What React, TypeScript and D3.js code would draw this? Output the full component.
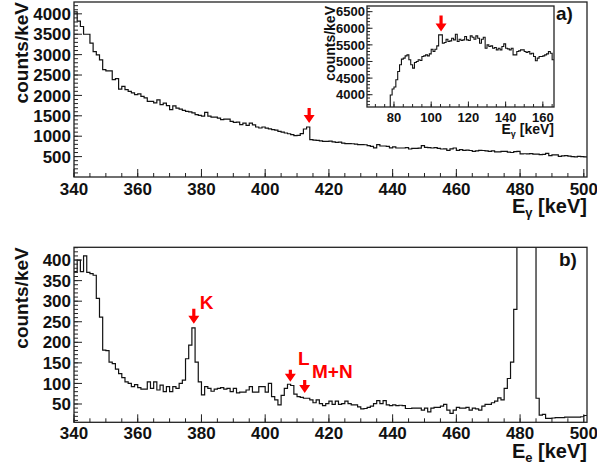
import React from 'react';
import * as d3 from 'd3';

// ---------- data (1 keV bins) ----------
const gammaStart = 340;
const gammaCounts = [
  4050, 3820, 3690, 3500, 3500, 3280, 3075, 2995, 2870, 2630,
  2600, 2600, 2385, 2410, 2155, 2220, 2140, 2100, 2060, 2020,
  2040, 1975, 1940, 1855, 1855, 1815, 1890, 1775, 1810, 1750,
  1650, 1745, 1690, 1665, 1635, 1610, 1595, 1570, 1530, 1510,
  1490, 1585, 1490, 1470, 1470, 1445, 1405, 1420, 1420, 1363,
  1340, 1345, 1282, 1323, 1265, 1323, 1280, 1226, 1201, 1226,
  1200, 1180, 1160, 1150, 1119, 1100, 1079, 1060, 1038, 1013,
  1020, 1062, 1177, 1226, 915, 905, 898, 885, 874, 874,
  880, 860, 850, 855, 830, 817, 820, 815, 805, 793,
  795, 790, 770, 752, 712, 793, 760, 760, 750, 712,
  740, 711, 711, 711, 720, 687, 700, 700, 710, 768,
  727, 720, 711, 720, 700, 687, 690, 654, 690, 711,
  654, 670, 654, 660, 650, 630, 640, 654, 650, 640,
  630, 640, 614, 614, 630, 630, 610, 600, 620, 630,
  565, 570, 565, 575, 560, 560, 548, 555, 581, 524,
  540, 540, 507, 520, 524, 510, 500, 491, 507, 500, 491,
];

const electronStart = 340;
const electronCounts = [
  372, 400, 372, 410, 370, 367, 363, 307, 261, 181,
  180, 152, 148, 135, 124, 114, 104, 100, 92, 97,
  90, 86, 86, 104, 88, 104, 84, 96, 80, 92,
  80, 92, 88, 100, 108, 160, 193, 235, 152, 104,
  72, 92, 88, 81, 86, 88, 90, 86, 88, 80,
  88, 77, 79, 79, 84, 92, 79, 79, 92, 92,
  79, 100, 68, 60, 48, 71, 88, 98, 95, 74,
  68, 66, 64, 64, 60, 53, 60, 51, 46, 51,
  57, 49, 57, 49, 51, 57, 51, 48, 48, 43,
  38, 39, 42, 45, 51, 58, 51, 58, 48, 46,
  48, 46, 47, 46, 39, 39, 40, 40, 40, 35,
  40, 31, 40, 42, 42, 45, 49, 35, 27, 35,
  42, 40, 40, 42, 35, 40, 38, 35, 45, 49,
  49, 53, 57, 65, 60, 88, 112, 152, 280, 1200,
  3000, 4000, 3500, 2000, 800, 64, 23, 25, 15, 15,
  16, 17, 17, 17, 18, 18, 18, 18, 18, 19, 22,
];

const insetStart = 78;
const insetCounts = [
  3990, 4170, 4230, 4450, 4700, 4900, 5070, 5100, 5170, 5200,
  5050, 4900, 4800, 4970, 5000, 5050, 5030, 5150, 5170, 5200,
  5170, 5230, 5370, 5300, 5370, 5470, 5800, 5800, 5550, 5570,
  5670, 5600, 5620, 5700, 5650, 5820, 5600, 5670, 5630, 5650,
  5750, 5650, 5630, 5770, 5730, 5670, 5770, 5700, 5550, 5670,
  5730, 5400, 5500, 5450, 5470, 5400, 5420, 5350, 5400, 5350,
  5450, 5530, 5400, 5380, 5350, 5400, 5200, 5200, 5300, 5320,
  5350, 5350, 5300, 5270, 5300, 5230, 5250, 5150, 5020, 5100,
  5150, 5150, 5170, 5200, 5230, 5300, 5250, 5050,
];

// ---------- axes ----------
const mainXDomain = [340, 501];
const mainXTicks = [340, 360, 380, 400, 420, 440, 460, 480, 500];
const gammaYDomain = [0, 4290];
const gammaYTicks = [500, 1000, 1500, 2000, 2500, 3000, 3500, 4000];
const electronYDomain = [5.5, 431];
const electronYTicks = [50, 100, 150, 200, 250, 300, 350, 400];
const insetXDomain = [65.5, 166];
const insetXTicks = [80, 100, 120, 140, 160];
const insetYDomain = [3630, 6670];
const insetYTicks = [4000, 4500, 5000, 5500, 6000, 6500];

// ---------- annotations ----------
const gammaArrows = [{ e: 413.8, v: 1324, len: 15 }];
const insetArrows = [{ e: 105.3, v: 5900, len: 16 }];
const electronArrows = [
  { e: 377.6, v: 245, len: 15 },
  { e: 407.9, v: 104, len: 12 },
  { e: 412.4, v: 77, len: 13 },
];
const electronLabels = [
  { e: 379.5, v: 280, text: 'K' },
  { e: 410.3, v: 144, text: 'L' },
  { e: 414.7, v: 113, text: 'M+N' },
];

const FONT = "'Liberation Sans', Arial, Helvetica, sans-serif";
const RED = '#ff0000';

type Scale = d3.ScaleLinear<number, number>;

function histPath(start: number, values: number[], x: Scale, y: Scale, fromBottom: boolean) {
  const pts: [number, number][] = [];
  if (fromBottom) pts.push([x(start), y.range()[0]]);
  values.forEach((v, i) => {
    pts.push([x(start + i), y(v)]);
    pts.push([x(start + i + 1), y(v)]);
  });
  return d3.line()(pts) || '';
}

function arrowPath(cx: number, tipY: number, len: number) {
  const headH = 8;
  const headW = 5.5;
  const shaftW = 1.6;
  const top = tipY - len;
  const hb = tipY - headH;
  return `M${cx - shaftW},${top}L${cx + shaftW},${top}L${cx + shaftW},${hb}L${cx + headW},${hb}L${cx},${tipY}L${cx - headW},${hb}L${cx - shaftW},${hb}Z`;
}

interface PanelAxesProps {
  x: Scale; y: Scale;
  xTicks: number[]; yTicks: number[];
  xMinor: number[]; yMinor: number[];
  majorLen: number; minorLen: number;
  fontSize: number; xLabelDy: number; yLabelDx: number;
}

function PanelAxes(p: PanelAxesProps) {
  const [x0, x1] = p.x.range();
  const [y0, y1] = p.y.range();
  return (
    <g>
      <rect x={x0} y={y1} width={x1 - x0} height={y0 - y1} fill="none" stroke="#222" strokeWidth={1.3} />
      {p.xMinor.map((t) => (
        <line key={'xm' + t} x1={p.x(t)} x2={p.x(t)} y1={y0} y2={y0 - p.minorLen} stroke="#222" strokeWidth={1} />
      ))}
      {p.xTicks.map((t) => (
        <line key={'xM' + t} x1={p.x(t)} x2={p.x(t)} y1={y0} y2={y0 - p.majorLen} stroke="#222" strokeWidth={1} />
      ))}
      {p.yMinor.map((t) => (
        <line key={'ym' + t} x1={x0} x2={x0 + p.minorLen} y1={p.y(t)} y2={p.y(t)} stroke="#222" strokeWidth={1} />
      ))}
      {p.yTicks.map((t) => (
        <line key={'yM' + t} x1={x0} x2={x0 + p.majorLen} y1={p.y(t)} y2={p.y(t)} stroke="#222" strokeWidth={1} />
      ))}
      {p.xTicks.map((t) => (
        <text key={'xl' + t} x={p.x(t)} y={y0 + p.xLabelDy} textAnchor="middle" fontFamily={FONT} fontWeight="bold" fontSize={p.fontSize} fill="#111">
          {t}
        </text>
      ))}
      {p.yTicks.map((t) => (
        <text key={'yl' + t} x={x0 - p.yLabelDx} y={p.y(t) + p.fontSize * 0.36} textAnchor="end" fontFamily={FONT} fontWeight="bold" fontSize={p.fontSize} fill="#111">
          {t}
        </text>
      ))}
    </g>
  );
}

export default function App() {
  const xTop = d3.scaleLinear().domain(mainXDomain).range([74, 587]);
  const yTop = d3.scaleLinear().domain(gammaYDomain).range([177, 2]);
  const xBot = d3.scaleLinear().domain(mainXDomain).range([74, 587]);
  const yBot = d3.scaleLinear().domain(electronYDomain).range([422.3, 247.3]);
  const xIn = d3.scaleLinear().domain(insetXDomain).range([367, 554]);
  const yIn = d3.scaleLinear().domain(insetYDomain).range([107, 6]);

  const mainXMinor = d3.range(340, 501.01, 5);
  const topYMinor = d3.range(100, 4290, 100);
  const botYMinor = d3.range(10, 431, 10);
  const inXMinor = d3.range(70, 166, 5);
  const inYMinor = d3.range(3700, 6670, 100);

  return (
    <svg width={597} height={465} style={{ position: 'absolute', left: 0, top: 0, background: '#fff' }}>
      <defs>
        <clipPath id="clipTop"><rect x={74} y={2} width={513} height={175} /></clipPath>
        <clipPath id="clipBot"><rect x={74} y={247.3} width={513} height={175} /></clipPath>
        <clipPath id="clipIn"><rect x={367} y={6} width={187} height={101} /></clipPath>
      </defs>

      {/* ---------- panel a ---------- */}
      <path d={histPath(gammaStart, gammaCounts, xTop, yTop, false)} fill="none" stroke="#111" strokeWidth={1.2} clipPath="url(#clipTop)" />
      <PanelAxes x={xTop} y={yTop} xTicks={mainXTicks} yTicks={gammaYTicks} xMinor={mainXMinor} yMinor={topYMinor}
        majorLen={8} minorLen={4} fontSize={17} xLabelDy={18} yLabelDx={3} />
      <text transform={`translate(28,${yTop.range()[1]}) rotate(-90)`} textAnchor="end" fontFamily={FONT} fontWeight="bold" fontSize={19} fill="#111">counts/keV</text>
      <text x={587} y={213} textAnchor="end" fontFamily={FONT} fontWeight="bold" fontSize={20} fill="#111">
        E<tspan fontSize={13} dy={4}>γ</tspan><tspan dy={-4}> [keV]</tspan>
      </text>
      <text x={556} y={20} fontFamily={FONT} fontWeight="bold" fontSize={19} fill="#111">a)</text>
      {gammaArrows.map((a, i) => (
        <path key={'ga' + i} d={arrowPath(xTop(a.e), yTop(a.v), a.len)} fill={RED} />
      ))}

      {/* ---------- inset ---------- */}
      <rect x={367} y={6} width={187} height={101} fill="#fff" />
      <path d={histPath(insetStart, insetCounts, xIn, yIn, true)} fill="none" stroke="#111" strokeWidth={1.1} clipPath="url(#clipIn)" />
      <PanelAxes x={xIn} y={yIn} xTicks={insetXTicks} yTicks={insetYTicks} xMinor={inXMinor} yMinor={inYMinor}
        majorLen={5.5} minorLen={3} fontSize={13} xLabelDy={14.5} yLabelDx={2} />
      <text transform={`translate(335,${yIn.range()[1]}) rotate(-90)`} textAnchor="end" fontFamily={FONT} fontWeight="bold" fontSize={14} fill="#111">counts/keV</text>
      <text x={554} y={134} textAnchor="end" fontFamily={FONT} fontWeight="bold" fontSize={14} fill="#111">
        E<tspan fontSize={9} dy={3}>γ</tspan><tspan dy={-3}> [keV]</tspan>
      </text>
      {insetArrows.map((a, i) => (
        <path key={'ia' + i} d={arrowPath(xIn(a.e), yIn(a.v), a.len)} fill={RED} />
      ))}

      {/* ---------- panel b ---------- */}
      <path d={histPath(electronStart, electronCounts, xBot, yBot, false)} fill="none" stroke="#111" strokeWidth={1.2} clipPath="url(#clipBot)" />
      <PanelAxes x={xBot} y={yBot} xTicks={mainXTicks} yTicks={electronYTicks} xMinor={mainXMinor} yMinor={botYMinor}
        majorLen={8} minorLen={4} fontSize={17} xLabelDy={17} yLabelDx={3} />
      <text transform={`translate(28,${yBot.range()[1]}) rotate(-90)`} textAnchor="end" fontFamily={FONT} fontWeight="bold" fontSize={19} fill="#111">counts/keV</text>
      <text x={587} y={458} textAnchor="end" fontFamily={FONT} fontWeight="bold" fontSize={20} fill="#111">
        E<tspan fontSize={13} dy={4}>e</tspan><tspan dy={-4}> [keV]</tspan>
      </text>
      <text x={559} y={266} fontFamily={FONT} fontWeight="bold" fontSize={19} fill="#111">b)</text>
      {electronArrows.map((a, i) => (
        <path key={'ea' + i} d={arrowPath(xBot(a.e), yBot(a.v), a.len)} fill={RED} />
      ))}
      {electronLabels.map((l, i) => (
        <text key={'el' + i} x={xBot(l.e)} y={yBot(l.v)} fontFamily={FONT} fontWeight="bold" fontSize={19} fill={RED}>{l.text}</text>
      ))}
    </svg>
  );
}
